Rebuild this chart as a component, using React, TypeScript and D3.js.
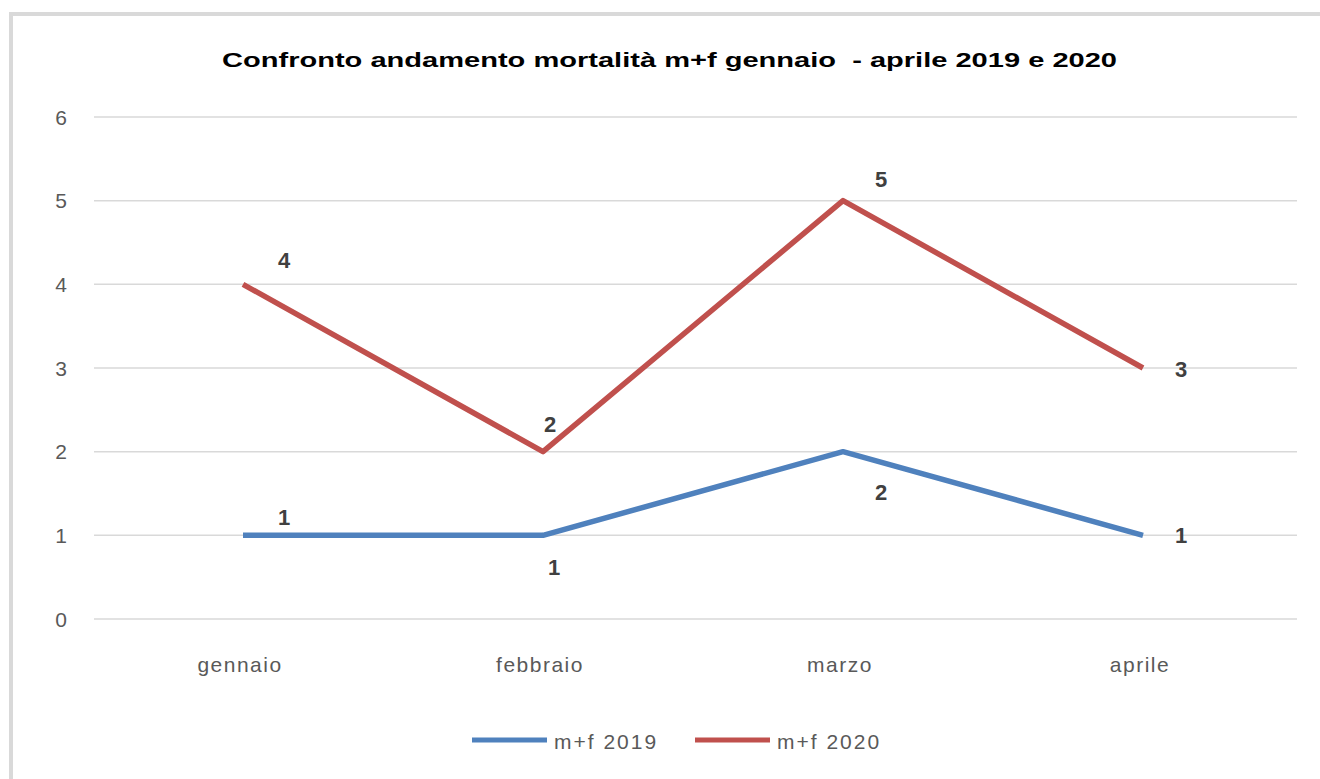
import React from "react";
import * as d3 from "d3";

const title = "Confronto andamento mortalità m+f gennaio  - aprile 2019 e 2020";
const months = ["gennaio", "febbraio", "marzo", "aprile"];
const values2019 = [1, 1, 2, 1];
const values2020 = [4, 2, 5, 3];
const yTicks = [0, 1, 2, 3, 4, 5, 6];
const seriesNames = ["m+f 2019", "m+f 2020"];
const seriesColors = ["#4f81bd", "#c0504d"];
// label placement per point: [dx, dy] offsets (style)
const labelOffsets2019: [number, number][] = [[41, -18], [11, 32], [38, 40], [38, 0]];
const labelOffsets2020: [number, number][] = [[41, -24], [7, -28], [38, -22], [38, 1]];

const W = 1320;
const H = 779;
const FONT = "'Liberation Sans', Arial, sans-serif";

export default function App() {
  const x = d3.scaleBand<string>().domain(months).range([93, 1293]);
  const y = d3.scaleLinear().domain([0, 6]).range([619, 117]);
  const cx = (m: string) => (x(m) as number) + x.bandwidth() / 2;
  const line = d3
    .line<number>()
    .x((_, i) => cx(months[i]))
    .y((d) => y(d));

  const series = [
    { name: seriesNames[0], values: values2019, color: seriesColors[0], offs: labelOffsets2019 },
    { name: seriesNames[1], values: values2020, color: seriesColors[1], offs: labelOffsets2020 },
  ];

  const legendX = [472, 695];

  return (
    <svg
      width={W}
      height={H}
      style={{ position: "absolute", left: 0, top: 0, background: "#fff" }}
      fontFamily={FONT}
    >
      <rect x={0} y={0} width={W} height={H} fill="#fff" />
      <rect x={11} y={14} width={W + 50} height={H + 50} fill="none" stroke="#d9d9d9" strokeWidth={4} />
      <text
        x={222}
        y={67}
        fontSize={21}
        fontWeight="bold"
        fill="#000"
        textLength={895}
        lengthAdjust="spacingAndGlyphs"
        style={{ whiteSpace: "pre" }}
      >
        {title}
      </text>
      {yTicks.map((t) => (
        <g key={t}>
          <line x1={94} x2={1297} y1={y(t)} y2={y(t)} stroke="#d9d9d9" strokeWidth={1.5} />
          <text x={67} y={y(t)} dy="0.36em" textAnchor="end" fontSize={21} fill="#595959">
            {t}
          </text>
        </g>
      ))}
      {months.map((m) => (
        <text key={m} x={cx(m) - 3} y={672} textAnchor="middle" fontSize={21} fill="#595959" letterSpacing={1.5}>
          {m}
        </text>
      ))}
      {series.map((s) => (
        <path
          key={s.name}
          d={line(s.values) as string}
          fill="none"
          stroke={s.color}
          strokeWidth={5.5}
          strokeLinejoin="round"
        />
      ))}
      {series.map((s) =>
        s.values.map((v, i) => (
          <text
            key={s.name + i}
            x={cx(months[i]) + s.offs[i][0]}
            y={y(v) + s.offs[i][1]}
            dy="0.36em"
            textAnchor="middle"
            fontSize={22}
            fontWeight="bold"
            fill="#404040"
          >
            {v}
          </text>
        ))
      )}
      {series.map((s, i) => (
        <g key={"lg" + s.name}>
          <line x1={legendX[i]} x2={legendX[i] + 75} y1={740} y2={740} stroke={s.color} strokeWidth={5} />
          <text x={legendX[i] + 82} y={749} fontSize={21} fill="#595959" letterSpacing={2}>
            {s.name}
          </text>
        </g>
      ))}
    </svg>
  );
}
